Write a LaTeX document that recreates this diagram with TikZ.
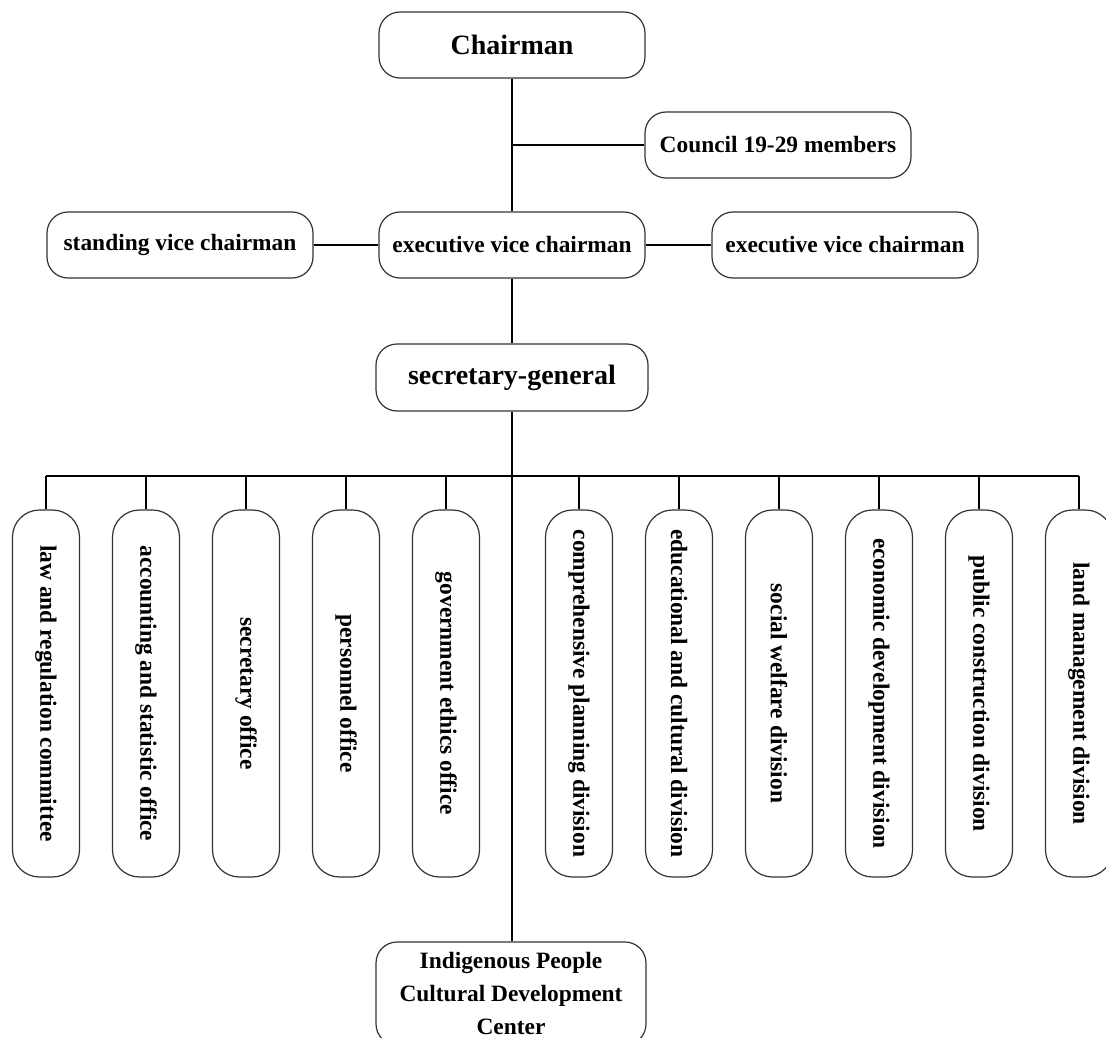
\documentclass[tikz,border=0pt]{standalone}
\usepackage{fontspec}
\usepackage{graphicx}
\setmainfont{Liberation Serif}
\begin{document}
\begin{tikzpicture}[x=1pt,y=-1pt,
  box/.style={draw=black!80, line width=1.2pt, rounded corners=21pt, fill=white,
     inner sep=0pt, font=\fontsize{23.4}{28}\selectfont\bfseries, align=center},
  hbox/.style={box, minimum width=266pt, minimum height=66pt},
  bigtext/.style={font=\fontsize{28}{32}\selectfont\bfseries},
  vbox/.style={box, rounded corners=27pt, minimum width=67pt, minimum height=367pt},
  link/.style={draw=black, line width=1.5pt}]
\useasboundingbox (0,0) rectangle (1106,1038);
\clip (0,0) rectangle (1106,1038);
\fill[white] (0,0) rectangle (1106,1038);

% top part
\node[hbox, bigtext] (chair) at (512,45) {Chairman};
\node[hbox] (council) at (778,145) {Council 19-29 members};
\node[hbox] (evc) at (512,245) {executive vice chairman};
\node[hbox] (svc) at (180,245) {standing vice chairman};
\node[hbox] (evc2) at (845,245) {executive vice chairman};
\node[hbox, bigtext, minimum width=272pt, minimum height=67pt] (sg) at (512,377.5) {secretary-general};

% vertical boxes
\newcommand{\vt}[1]{\rotatebox{-90}{#1}}
\node[vbox] (law) at (46,693.5) {\vt{law and regulation committee}};
\node[vbox] (acc) at (146,693.5) {\vt{accounting and statistic office}};
\node[vbox] (sec) at (246,693.5) {\vt{secretary office}};
\node[vbox] (per) at (346,693.5) {\vt{personnel office}};
\node[vbox] (gov) at (446,693.5) {\vt{government ethics office}};
\node[vbox] (cpd) at (579,693.5) {\vt{comprehensive planning division}};
\node[vbox] (ecd) at (679,693.5) {\vt{educational and cultural division}};
\node[vbox] (swd) at (779,693.5) {\vt{social welfare division}};
\node[vbox] (edd) at (879,693.5) {\vt{economic development division}};
\node[vbox] (pcd) at (979,693.5) {\vt{public construction division}};
\node[vbox] (lmd) at (1079,693.5) {\vt{land management division}};

% bottom box
\node[box, minimum width=270pt, minimum height=103pt, font=\fontsize{23.4}{33}\selectfont\bfseries] (ipc) at (511,993.5)
  {Indigenous People\\Cultural Development\\Center};

% connectors
\coordinate (bus) at (512,476);
\draw[link] (chair.south) -- (evc.north);
\draw[link] (chair.south |- council.west) -- (council.west);
\draw[link] (svc.east) -- (evc.west);
\draw[link] (evc.east) -- (evc2.west);
\draw[link] (evc.south) -- (sg.north);
\draw[link] (sg.south) -- (sg.south |- ipc.north);
\draw[link] (law.north |- bus) -- (lmd.north |- bus);
\foreach \n in {law,acc,sec,per,gov,cpd,ecd,swd,edd,pcd,lmd}
  \draw[link] (\n.north |- bus) -- (\n.north);
\end{tikzpicture}
\end{document}
